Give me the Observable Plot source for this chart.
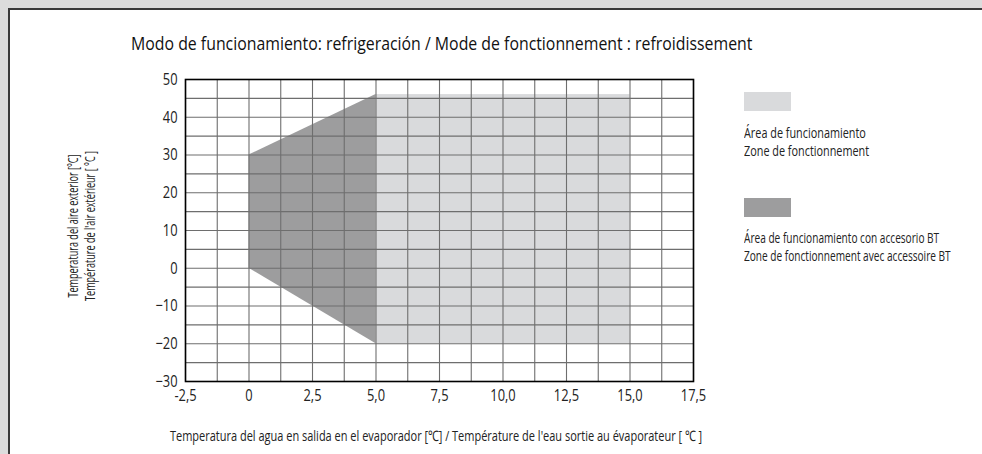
<!DOCTYPE html>
<html><head><meta charset="utf-8">
<script src="https://cdn.jsdelivr.net/npm/d3@7"></script>
<script src="https://cdn.jsdelivr.net/npm/@observablehq/plot@0.6"></script>
<style>
body{margin:0;background:#dcdcdc;width:982px;height:454px;overflow:hidden;position:relative;font-family:"Open Sans","Liberation Sans",sans-serif;color:#222}
#panel{position:absolute;left:8px;top:8px;right:0;bottom:0;background:#fff;border-left:2px solid #3a3a3a;border-top:2px solid #3a3a3a}
#chart{position:absolute;left:0;top:0}
.t{position:absolute;white-space:nowrap;line-height:1}
.sw{position:absolute;width:47px;height:19px}
</style></head><body>
<div id="panel"></div>
<div id="chart"></div>
<div class="t" id="title" data-w="621" data-o="left top" style="left:131px;top:34px;font-size:18.5px;color:#111">Modo de funcionamiento: refrigeración / Mode de fonctionnement : refroidissement</div>
<div class="sw" style="left:744px;top:92px;background:#d9dadc"></div>
<div class="t" data-w="125" data-o="left top" style="left:744px;top:124px;font-size:14.5px;line-height:17.5px">Área de funcionamiento<br>Zone de fonctionnement</div>
<div class="sw" style="left:744px;top:198px;background:#9d9d9e"></div>
<div class="t" data-w="207" data-o="left top" style="left:744px;top:229px;font-size:14.5px;line-height:17.5px">Área de funcionamiento con accesorio BT<br>Zone de fonctionnement avec accessoire BT</div>
<div class="t" data-w="532" data-c="x" style="left:436px;top:429px;font-size:14.5px">Temperatura del agua en salida en el evaporador [℃] / Température de l'eau sortie au évaporateur [ ℃ ]</div>
<div class="t" data-w="150" data-c="y" style="left:81px;top:226px;font-size:14px;line-height:17px;text-align:center">Temperatura del aire exterior [°C]<br>Température de l'air extérieur [ °C ]</div>
<script>
const xGrid = [-2.5, -1.25, 0, 1.25, 2.5, 3.75, 5, 6.25, 7.5, 8.75, 10, 11.25, 12.5, 13.75, 15, 16.25, 17.5];
const yGrid = [-30, -25, -20, -15, -10, -5, 0, 5, 10, 15, 20, 25, 30, 35, 40, 45, 50];
const xTicks = [-2.5, 0, 2.5, 5, 7.5, 10, 12.5, 15, 17.5];
const xTickLabels = ["-2,5", "0", "2,5", "5,0", "7,5", "10,0", "12,5", "15,0", "17,5"];
const yTicks = [-30, -20, -10, 0, 10, 20, 30, 40, 50];
// Área de funcionamiento (standard)
const stdX = [5, 15];
const stdY = [-20, 46];
// Área de funcionamiento con accesorio BT
const btX = [0, 5];
const btYLow = [0, -20];
const btYHigh = [30, 46];

const stdRect = [{x1: stdX[0], x2: stdX[1], y1: stdY[0], y2: stdY[1]}];
const btArea = btX.map((x, i) => ({x, lo: btYLow[i], hi: btYHigh[i]}));

const chart = Plot.plot({
  width: 982, height: 454,
  marginLeft: 185, marginRight: 289, marginTop: 79, marginBottom: 73,
  x: {domain: [-2.5, 17.5]},
  y: {domain: [-30, 50]},
  style: {background: "transparent", fontFamily: "'Open Sans','Liberation Sans',sans-serif", fontSize: "16.5px", color: "#222"},
  marks: [
    Plot.rect(stdRect, {x1: "x1", x2: "x2", y1: "y1", y2: "y2", fill: "#d9dadc"}),
    Plot.areaY(btArea, {x: "x", y1: "lo", y2: "hi", fill: "#9d9d9e"}),
    Plot.ruleX(xGrid, {stroke: "#6e6e6e", strokeWidth: 1.1}),
    Plot.ruleY(yGrid, {stroke: "#6e6e6e", strokeWidth: 1.1}),
    Plot.frame({stroke: "#000", strokeWidth: 1.6}),
    Plot.axisX({ticks: xTicks, tickFormat: d => xTickLabels[xTicks.indexOf(d)], tickSize: 0, tickPadding: 8, label: null}),
    Plot.axisY({ticks: yTicks, tickSize: 0, tickPadding: 8, label: null})
  ]
});
document.getElementById("chart").appendChild(chart);

// condense tick labels horizontally (reference uses a condensed typeface)
const SX = 0.78;
chart.querySelectorAll("text").forEach(t => {
  const tr = t.getAttribute("transform") || "";
  t.setAttribute("transform", `${tr} scale(${SX},1)`);
  const xa = t.getAttribute("x");
  if (xa !== null && isFinite(+xa)) t.setAttribute("x", (+xa) / SX);
});

// condense HTML texts to the reference widths
document.querySelectorAll(".t[data-w]").forEach(el => {
  const s = (+el.dataset.w) / el.offsetWidth;
  if (el.dataset.c === "x") {
    el.style.transformOrigin = "center";
    el.style.transform = `translateX(-50%) scaleX(${s})`;
  } else if (el.dataset.c === "y") {
    el.style.transformOrigin = "center";
    el.style.transform = `translate(-50%,-50%) rotate(-90deg) scaleX(${s})`;
  } else {
    el.style.transformOrigin = el.dataset.o;
    el.style.transform = `scaleX(${s})`;
  }
});
</script>
</body></html>
